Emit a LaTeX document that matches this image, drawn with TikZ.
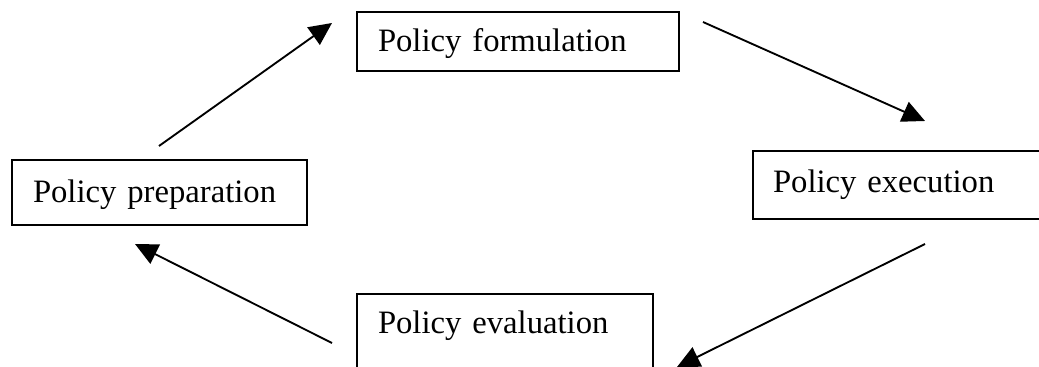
\documentclass[tikz,border=0pt]{standalone}
\usepackage{fontspec}
\setmainfont{Liberation Serif}
\usetikzlibrary{arrows.meta}
\begin{document}
\begin{tikzpicture}[x=0.75pt,y=-0.75pt,
  stagebox/.style={draw,line width=1.4pt,rectangle,inner xsep=0pt,inner ysep=0pt,
    font=\fontsize{24.5pt}{29pt}\selectfont,align=left,
    text height=19.6pt,text depth=3.9pt},
  flow/.style={line width=1.4pt,-{Triangle[length=17pt,width=16pt]}}]
\useasboundingbox (0,0) rectangle (1039,367);
\clip (0,0) rectangle (1039,367);
\fill[white] (0,0) rectangle (1039,367);
\node[stagebox,minimum width=322*0.75pt,minimum height=59*0.75pt,text width=280*0.75pt] (form) at (518,41.5) {Policy formulation};
\node[stagebox,minimum width=295*0.75pt,minimum height=65*0.75pt,text width=253*0.75pt] (prep) at (159.5,192.5) {Policy preparation};
\node[stagebox,minimum width=307*0.75pt,minimum height=68*0.75pt,text width=267*0.75pt,text depth=8.8pt] (exec) at (906.5,185) {Policy execution};
\node[stagebox,minimum width=296*0.75pt,minimum height=100*0.75pt,text width=254*0.75pt,text depth=36pt] (eval) at (505,344) {Policy evaluation};
\coordinate (a1s) at (159,146);
\coordinate (a1e) at (332,23);
\coordinate (a2s) at (703,22);
\coordinate (a2e) at (925,121);
\coordinate (a3s) at (925,244);
\coordinate (a3e) at (677,367);
\coordinate (a4s) at (332,343);
\coordinate (a4e) at (135,244);
\draw[flow] (a1s) -- (a1e);
\draw[flow] (a2s) -- (a2e);
\draw[flow] (a3s) -- (a3e);
\draw[flow] (a4s) -- (a4e);
\end{tikzpicture}
\end{document}
